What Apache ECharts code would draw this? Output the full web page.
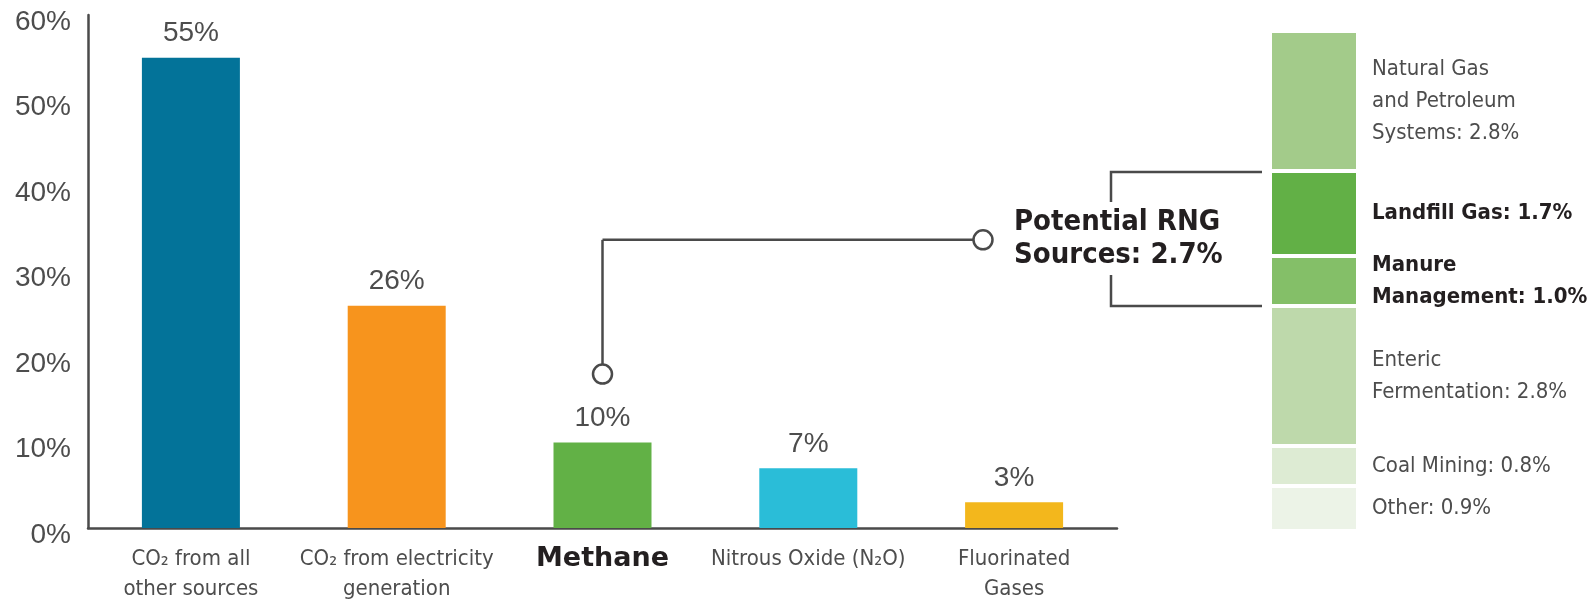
<!DOCTYPE html>
<html>
<head>
<meta charset="utf-8">
<script src="https://cdn.jsdelivr.net/npm/echarts@6/dist/echarts.min.js"></script>
<style>
  html, body { margin: 0; padding: 0; background: #fff; }
  #chart { width: 1590px; height: 606px; }
</style>
</head>
<body>
<div id="chart"></div>
<script>
// greenhouse gas shares (%)
const categories = ['CO₂ from all\nother sources', 'CO₂ from electricity\ngeneration', 'Methane', 'Nitrous Oxide (N₂O)', 'Fluorinated\nGases']
const shares = [55, 26, 10, 7, 3]
const barColors = ['#037399', '#f7941d', '#62b146', '#2abdd8', '#f3b71c']

// methane breakdown, bottom to top
const methaneSources = ['Other', 'Coal Mining', 'Enteric\nFermentation', 'Manure\nManagement', 'Landfill Gas', 'Natural Gas\nand Petroleum\nSystems']
const methaneShares = [0.9, 0.8, 2.8, 1.0, 1.7, 2.8]
const methaneColors = ['#ecf3e7', '#ddebd3', '#bed9ab', '#84bf68', '#62b046', '#a3cb8a']
const rngSources = ['Manure\nManagement', 'Landfill Gas']
const rngTotal = 2.7

// callout levels on the left axis (%)
const calloutDot = 18
const calloutLevel = 33.7

const TEXT = '#4d4d4d'
const DARK = '#231f20'
const LINE = '#4a4a4a'
const NARROW = "'DejaVu Sans Condensed', sans-serif"

const chart = echarts.init(document.getElementById('chart'))

const stackSeries = methaneSources.map((name, i) => {
  const isRng = rngSources.includes(name)
  return {
    name: name,
    type: 'bar',
    stack: 'methane',
    xAxisIndex: 1,
    yAxisIndex: 1,
    barWidth: '100%',
    data: [methaneShares[i]],
    itemStyle: { color: methaneColors[i], borderColor: '#fff', borderWidth: 2 },
    label: {
      show: true,
      position: 'right',
      distance: 14,
      formatter: () => name + ': ' + methaneShares[i].toFixed(1) + '%',
      fontFamily: NARROW,
      fontSize: 22,
      fontWeight: isRng ? 'bold' : 'normal',
      color: isRng ? DARK : TEXT,
      lineHeight: 32,
      align: 'left'
    },
    silent: true
  }
})

const option = {
  animation: false,
  grid: [
    { left: 88, width: 1029, top: 15, bottom: 78 },
    { left: 1270, width: 88, top: 31, bottom: 75 }
  ],
  xAxis: [
    {
      type: 'category',
      data: categories,
      gridIndex: 0,
      axisLine: { lineStyle: { color: LINE, width: 2.5 } },
      axisTick: { show: false },
      axisLabel: {
        margin: 16,
        interval: 0,
        fontFamily: NARROW,
        fontSize: 22,
        lineHeight: 30,
        color: TEXT,
        formatter: v => v === 'Methane' ? '{b|' + v + '}' : v,
        rich: {
          b: { fontFamily: "'DejaVu Sans', sans-serif", fontWeight: 'bold', fontSize: 27, color: DARK, lineHeight: 30 }
        }
      }
    },
    { type: 'category', data: ['Methane'], gridIndex: 1, show: false }
  ],
  yAxis: [
    {
      type: 'value',
      gridIndex: 0,
      min: 0,
      max: 60,
      interval: 10,
      axisLine: { show: true, lineStyle: { color: LINE, width: 2.5 } },
      axisTick: { show: false },
      splitLine: { show: false },
      axisLabel: {
        margin: 17,
        formatter: '{value}%',
        fontFamily: "'Liberation Sans', sans-serif",
        fontSize: 28,
        color: TEXT,
        verticalAlign: 'top',
        lineHeight: 14
      }
    },
    { type: 'value', gridIndex: 1, min: 0, max: 10, show: false }
  ],
  series: [
    {
      type: 'bar',
      barWidth: 98,
      data: shares.map((v, i) => ({ value: v, itemStyle: { color: barColors[i] } })),
      label: {
        show: true,
        position: 'top',
        distance: 10,
        formatter: '{c}%',
        fontFamily: "'Liberation Sans', sans-serif",
        fontSize: 28,
        color: TEXT
      },
      silent: true
    }
  ].concat(stackSeries)
}

chart.setOption(option)

const drawCallout = () => {
  const mx = chart.convertToPixel({ xAxisIndex: 0 }, 'Methane')
  const dotY = chart.convertToPixel({ yAxisIndex: 0 }, calloutDot)
  const levelY = chart.convertToPixel({ yAxisIndex: 0 }, calloutLevel)
  const barCenter = chart.convertToPixel({ xAxisIndex: 1 }, 'Methane')
  const barLeft = barCenter - 44
  // bracket spans the RNG segments (manure + landfill)
  const below = methaneShares[0] + methaneShares[1] + methaneShares[2]
  const topY = chart.convertToPixel({ yAxisIndex: 1 }, below + rngTotal) + 1
  const botY = chart.convertToPixel({ yAxisIndex: 1 }, below)
  const bx = barLeft - 159
  const endX = barLeft - 8
  const rx = barLeft - 287
  const r = 9.5
  const stroke = { stroke: LINE, lineWidth: 2.5, fill: null }

  chart.setOption({
    graphic: [
      { type: 'line', shape: { x1: mx, y1: dotY - r, x2: mx, y2: levelY }, style: stroke, silent: true },
      { type: 'line', shape: { x1: mx, y1: levelY, x2: rx - r, y2: levelY }, style: stroke, silent: true },
      { type: 'circle', shape: { cx: mx, cy: dotY, r: r }, style: { stroke: LINE, lineWidth: 2.5, fill: '#fff' }, silent: true },
      { type: 'circle', shape: { cx: rx, cy: levelY, r: r }, style: { stroke: LINE, lineWidth: 2.5, fill: '#fff' }, silent: true },
      { type: 'polyline', shape: { points: [[bx, topY + 30], [bx, topY], [endX, topY]] }, style: stroke, silent: true },
      { type: 'polyline', shape: { points: [[bx, botY - 31], [bx, botY], [endX, botY]] }, style: stroke, silent: true },
      {
        type: 'text',
        x: rx + 31,
        y: levelY - 1,
        style: {
          text: 'Potential RNG\nSources: ' + rngTotal.toFixed(1) + '%',
          fontFamily: "'DejaVu Sans Condensed', 'DejaVu Sans', sans-serif",
          fontWeight: 'bold',
          fontSize: 29,
          lineHeight: 33,
          fill: DARK,
          verticalAlign: 'middle',
          align: 'left'
        },
        silent: true
      }
    ]
  })
}

drawCallout()

window.addEventListener('resize', () => {
  chart.resize()
  drawCallout()
})
</script>
</body>
</html>
